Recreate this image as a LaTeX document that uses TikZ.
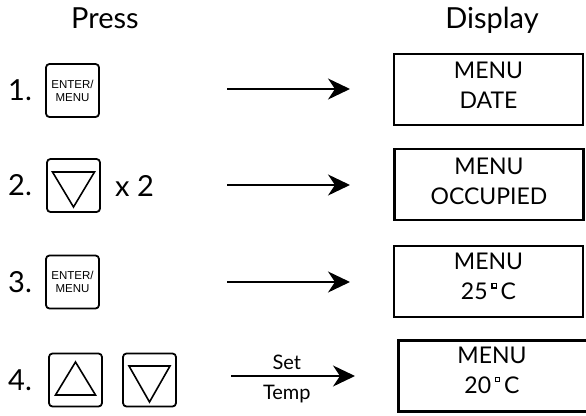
\documentclass[tikz,border=0pt]{standalone}
\usepackage{fontspec}
\setmainfont{Lato}
\newfontfamily\keyfont{Liberation Sans}
\usetikzlibrary{arrows.meta,calc}
\newcommand{\degsq}{\,\raisebox{13.8pt}{\setlength{\fboxsep}{1.5pt}\setlength{\fboxrule}{1.2pt}\fbox{}}\,}

\begin{document}
\begin{tikzpicture}[x=1pt,y=-1pt,
    title/.style={font=\fontsize{29}{30}\selectfont,anchor=base,inner sep=0pt},
    stepno/.style={font=\fontsize{29}{30}\selectfont,anchor=west,inner sep=0pt},
    key/.style={draw,line width=1.8pt,rounded corners=3.5pt,minimum size=53pt,inner sep=0pt,
        font=\keyfont\fontsize{11.5}{13}\selectfont,align=center},
    display/.style={draw,line width=2.5pt,minimum width=189pt,minimum height=71pt},
    readout/.style={font=\fontsize{23}{30}\selectfont,align=center,inner sep=0pt},
    lab/.style={font=\fontsize{20}{22}\selectfont,inner sep=2pt},
    arr/.style={line width=2pt,-{Stealth[length=22pt,width=21pt,inset=7pt]}},
    tri/.style={line width=1.6pt,line join=miter}]
        \useasboundingbox (0,0) rectangle (586,415);
        \clip (0,0) rectangle (586,415);

        \node[title] (press) at (105,28) {Press};
        \node[title] (disp) at (492,28) {Display};

        \node[stepno] (n1) at (8,90.5) {1.};
        \node[stepno] (n2) at (8,185.5) {2.};
        \node[stepno] (n3) at (8,282) {3.};
        \node[stepno] (n4) at (8,380) {4.};

        \node[key] (k1) at (72.5,90.5) {ENTER/\\MENU};
        \node[key] (k2) at (73.5,185.5) {};
        \node[key] (k3) at (72.5,282) {ENTER/\\MENU};
        \node[key] (k4a) at (75.5,380) {};
        \node[key] (k4b) at (149.5,380) {};
        \node[stepno] (times) at (115,185.5) {x 2};

        \draw[tri] ($(k2)+(-21,-13.5)$) -- ($(k2)+(21,-13.5)$) -- ($(k2)+(0,21.5)$) -- cycle;
        \draw[tri] ($(k4a)+(0,-18)$) -- ($(k4a)+(20,15)$) -- ($(k4a)+(-20,15)$) -- cycle;
        \draw[tri] ($(k4b)+(-20.5,-14)$) -- ($(k4b)+(20.5,-14)$) -- ($(k4b)+(0,22)$) -- cycle;

        \node[display] (d1) at (488.5,89.5) {};
        \node[display] (d2) at (489,184.5) {};
        \node[display] (d3) at (488.5,281.5) {};
        \node[display,minimum width=195pt] (d4) at (496,376) {};
        \node[readout] (t1) at ([yshift=4pt]d1.center) {MENU\\DATE};
        \node[readout] (t2) at ([yshift=3pt]d2.center) {MENU\\OCCUPIED};
        \node[readout] (t3) at ([yshift=5pt]d3.center) {MENU\\25\degsq C};
        \node[readout] (t4) at ([yshift=6pt,xshift=-4pt]d4.center) {MENU\\20\degsq C};

        \coordinate (a1) at (227,89);
        \coordinate (b1) at (350,89);
        \coordinate (a2) at (227,185);
        \coordinate (b2) at (350,185);
        \coordinate (a3) at (227,282);
        \coordinate (b3) at (350,282);
        \coordinate (a4) at (231,376);
        \coordinate (b4) at (355,376);

        \draw[arr] (a1) -- (b1);
        \draw[arr] (a2) -- (b2);
        \draw[arr] (a3) -- (b3);
        \draw[arr] (a4) -- node[lab,above=3pt,pos=0.45] (set) {Set}
            node[lab,below=6pt,pos=0.45] (temp) {Temp} (b4);

    \end{tikzpicture}
\end{document}
